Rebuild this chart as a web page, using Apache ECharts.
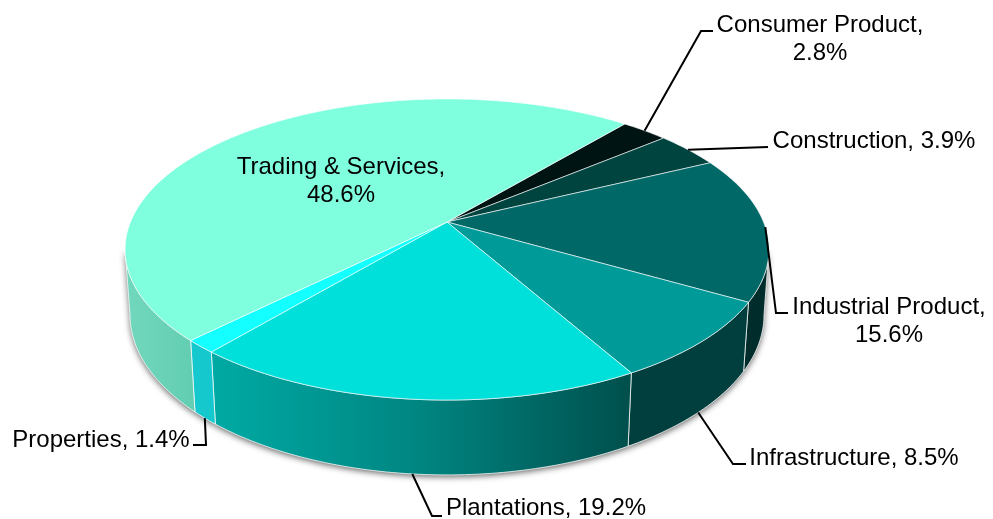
<!DOCTYPE html>
<html>
<head>
<meta charset="utf-8">
<style>html,body{margin:0;padding:0;background:#fff}#main{width:993px;height:519px}</style>
<script src="https://cdn.jsdelivr.net/npm/echarts@6/dist/echarts.min.js"></script>
</head>
<body>
<div id="main"></div>
<script>
var categories = ['Consumer Product', 'Construction', 'Industrial Product', 'Infrastructure', 'Plantations', 'Properties', 'Trading & Services'];
var shares = [2.8, 3.9, 15.6, 8.5, 19.2, 1.4, 48.6];
var topColors = ['#001413', '#004440', '#006866', '#009A98', '#00E0DA', '#14FFFF', '#7FFFDD'];
var wallColors = [
  ['#000', '#000'],
  ['#001c1b', '#001c1b'],
  ['#002c2b', '#002c2b'],
  ['#003f3d', '#003f3d'],
  ['#00aaa4', '#008581', '#004f4c'],
  ['#14c8ce', '#14c8ce'],
  ['#72d8bd', '#62cdb1']
];
// label layout: text centre, wrapped or not, then the leader bend and end (none for the one inside the pie)
var labelWrap = [true, false, true, false, false, false, true];
var labelPos = [[820, 39], [874, 141], [889, 321], [854, 458], [546, 508], [101, 440], [341, 181]];
var leaderBend = [[701, 31], null, [776, 313], [733, 464], [432, 516], [206, 445], null];
var leaderEnd = [[713, 31], [768, 147], [788, 313], [746, 464], [442, 516], [193, 445], null];
var leaderOnBase = [false, false, false, true, true, true, false];

// pie projection, the disc is seen in perspective
var startAngle = 39.8, cx = 447, cy = 222, A = 316.5, B = 145.5, k = 0.1827, w0 = 1.015, D = 65;
// part of the rim that can show a wall, ends where the outline is tangent
var wallFrom = 100.5, wallTo = 259.5;

function topPoint(deg) {
  var r = deg * Math.PI / 180, u = Math.sin(r), v = Math.cos(r), w = 1 + k * v;
  return [cx + A * u / w, cy - B * v / w];
}
function basePoint(deg) {
  var r = deg * Math.PI / 180, u = Math.sin(r), v = Math.cos(r), w = w0 + k * v;
  return [cx + A * u / w, cy + (D - B * v) / w];
}
function sliceRange(i) {
  var a = startAngle;
  for (var j = 0; j < i; j++) a += shares[j] * 3.6;
  return [a, a + shares[i] * 3.6];
}
function arc(fn, a, b) {
  var pts = [], n = Math.max(2, Math.ceil(Math.abs(b - a)));
  for (var j = 0; j <= n; j++) pts.push(fn(a + (b - a) * j / n));
  return pts;
}
function wallRange(i) {
  var s = sliceRange(i);
  var a = Math.max(s[0], wallFrom), b = Math.min(s[1], wallTo);
  return a < b ? [a, b] : null;
}

function renderShadow(params) {
  var r = wallRange(params.dataIndex);
  if (!r) return;
  return {
    type: 'polygon',
    shape: { points: [topPoint(r[0])].concat(arc(basePoint, r[0], r[1]), [topPoint(r[1])]) },
    style: { fill: '#999', shadowBlur: 6, shadowColor: 'rgba(0,0,0,0.6)', shadowOffsetX: 0, shadowOffsetY: 2 }
  };
}
function renderWall(params) {
  var i = params.dataIndex, r = wallRange(i);
  if (!r) return;
  var stops = wallColors[i].map(function (c, j, all) {
    return { offset: j / (all.length - 1), color: c };
  });
  return {
    type: 'polygon',
    shape: { points: arc(topPoint, r[0], r[1]).concat(arc(basePoint, r[1], r[0])) },
    style: {
      fill: new echarts.graphic.LinearGradient(0, 0, 1, 0, stops),
      stroke: 'rgba(255,255,255,0.75)',
      lineWidth: 1
    }
  };
}
function renderTop(params) {
  var i = params.dataIndex, s = sliceRange(i);
  return {
    type: 'polygon',
    shape: { points: [[cx, cy]].concat(arc(topPoint, s[0], s[1])) },
    style: { fill: topColors[i], stroke: 'rgba(255,255,255,0.6)', lineWidth: 1 }
  };
}
function renderLabel(params) {
  var i = params.dataIndex, s = sliceRange(i), mid = (s[0] + s[1]) / 2;
  var children = [];
  if (leaderEnd[i]) {
    var from = leaderOnBase[i] ? basePoint(mid) : topPoint(mid);
    var pts = leaderBend[i] ? [from, leaderBend[i], leaderEnd[i]] : [from, leaderEnd[i]];
    children.push({ type: 'polyline', shape: { points: pts }, style: { stroke: '#000', lineWidth: 2, fill: null } });
  }
  children.push({
    type: 'text',
    style: {
      text: categories[i] + ',' + (labelWrap[i] ? '\n' : ' ') + shares[i].toFixed(1) + '%',
      x: labelPos[i][0], y: labelPos[i][1],
      align: 'center', verticalAlign: 'middle',
      fontFamily: 'Liberation Sans', fontSize: 24, lineHeight: 28, fill: '#000'
    }
  });
  return { type: 'group', children: children };
}

var chart = echarts.init(document.getElementById('main'), null, { renderer: 'canvas' });
var rows = categories.map(function (c, i) { return [i, shares[i]]; });
chart.setOption({
  animation: false,
  backgroundColor: '#fff',
  series: [
    { type: 'custom', coordinateSystem: 'none', silent: true, data: rows, renderItem: renderShadow, z: 1 },
    { type: 'custom', coordinateSystem: 'none', silent: true, data: rows, renderItem: renderWall, z: 2 },
    { type: 'custom', coordinateSystem: 'none', silent: true, data: rows, renderItem: renderTop, z: 3 },
    { type: 'custom', coordinateSystem: 'none', silent: true, data: rows, renderItem: renderLabel, z: 4 }
  ]
});
</script>
</body>
</html>
